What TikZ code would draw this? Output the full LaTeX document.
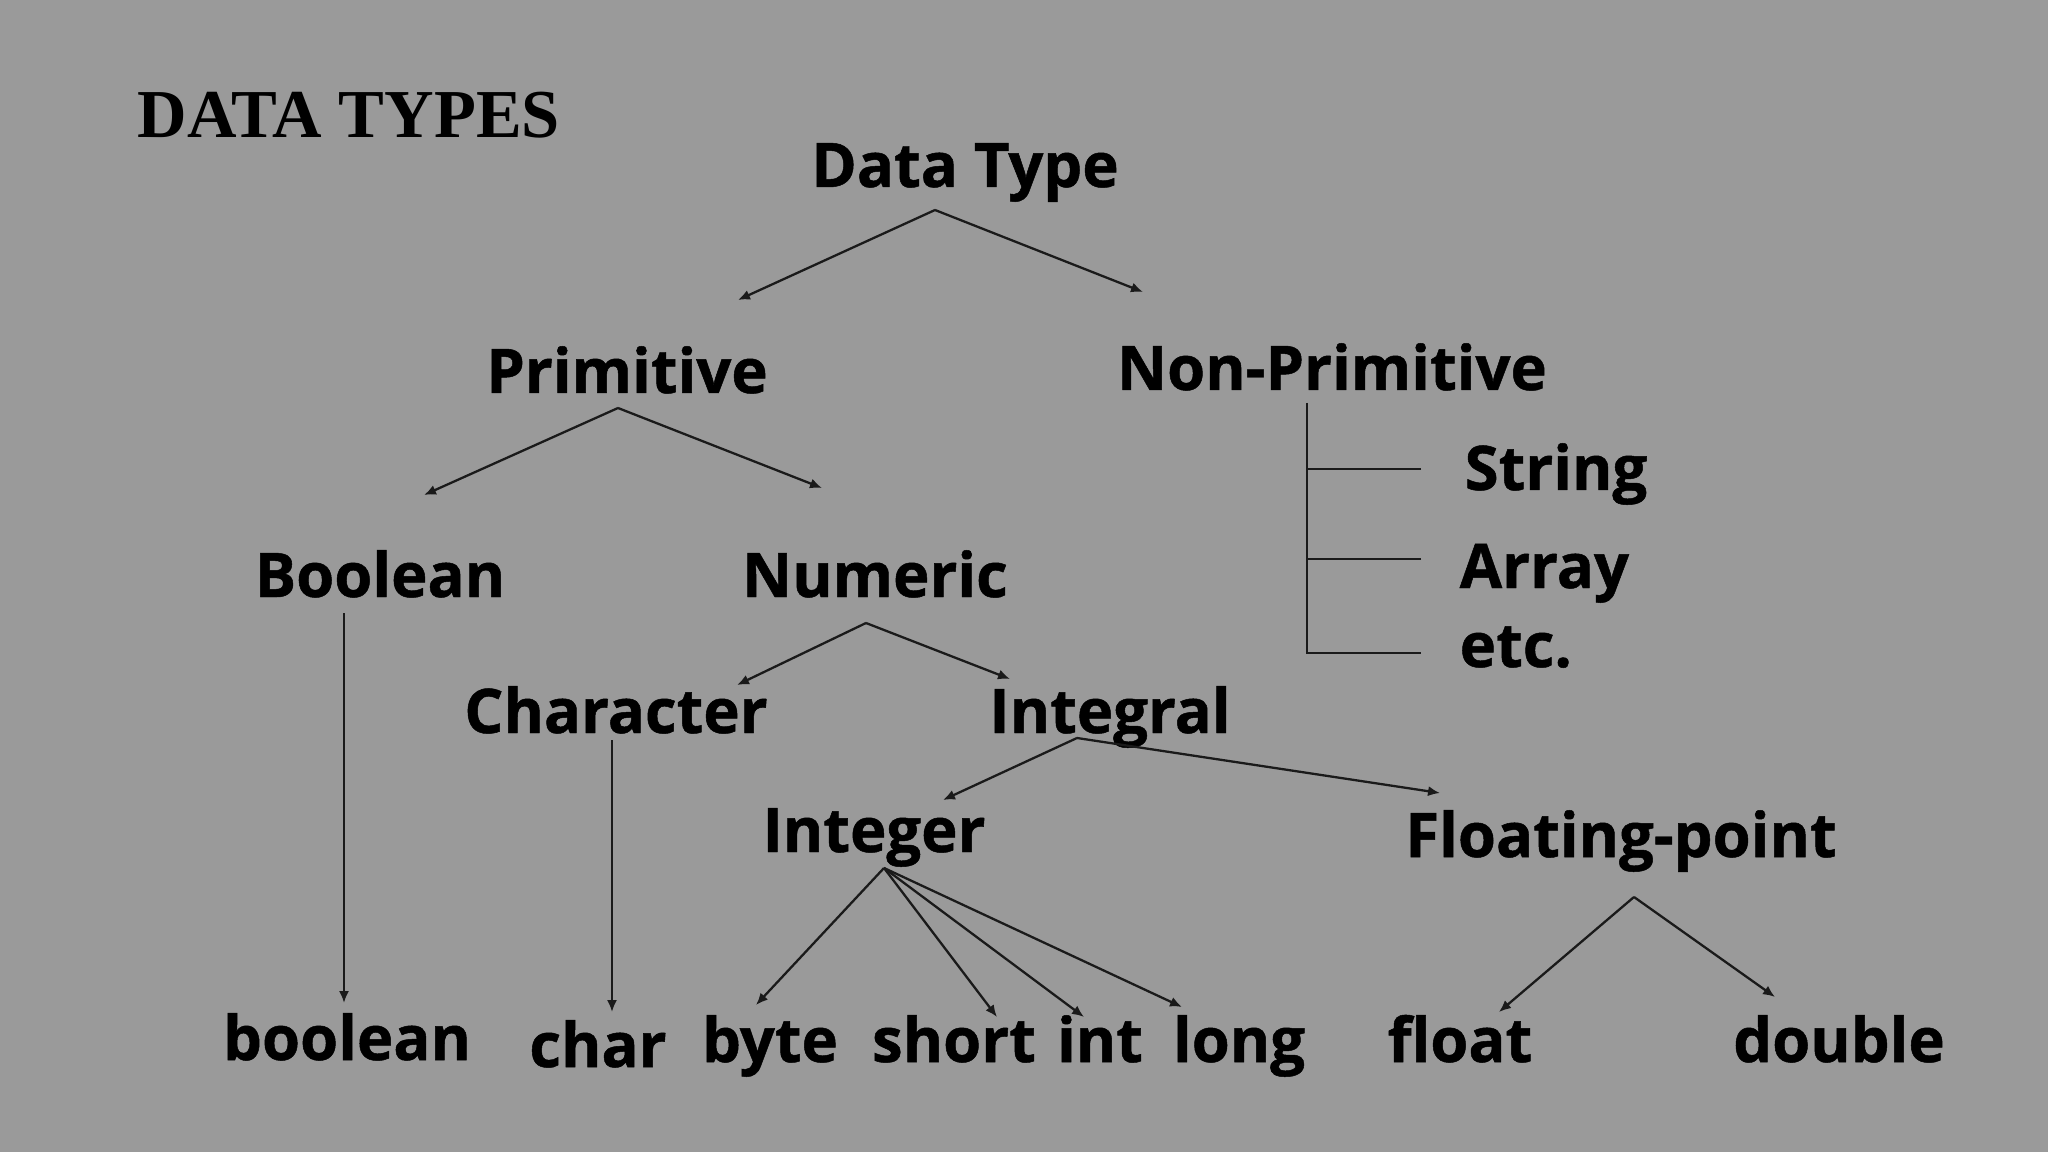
\documentclass[tikz,border=0pt]{standalone}
\usepackage{fontspec}
\usepackage{xcolor}
\usepackage{tikz}
\usetikzlibrary{arrows.meta}
\newfontfamily\osans{Open Sans}[BoldFeatures={FakeBold=0.8}]
\newfontfamily\tnr{Liberation Serif}
\definecolor{slidegray}{HTML}{9A9A9A}
\definecolor{inkline}{HTML}{1A1A1A}

\begin{document}
\begin{tikzpicture}[x=0.01cm, y=-0.01cm,
    lbl/.style={font=\osans\bfseries\fontsize{17.5}{20}\selectfont, inner sep=0, anchor=base},
    item/.style={lbl, anchor=base west},
    heading/.style={font=\tnr\bfseries\fontsize{19.5}{22}\selectfont, inner sep=0, anchor=base west},
    arrow/.style={-{Latex[length=3.4pt, width=2.9pt]}, line width=0.65pt, draw=inkline},
    link/.style={line width=0.65pt, draw=inkline}
]
    \fill[slidegray] (0,0) rectangle (2048,1152);
    \useasboundingbox (0,0) rectangle (2048,1152);

    \node[heading] (title) at (137,138) {DATA TYPES};

    \node[lbl] (dt) at (965,187) {Data Type};
    \node[lbl] (prim) at (627,393) {Primitive};
    \node[lbl] (nonprim) at (1332,390) {Non-Primitive};
    \node[item] (str) at (1464,490) {String};
    \node[item] (arr) at (1459,588) {Array};
    \node[item] (etc) at (1459,667) {etc.};
    \node[lbl] (bool) at (380,597) {Boolean};
    \node[lbl] (num) at (875,597) {Numeric};
    \node[lbl] (chr) at (616,733) {Character};
    \node[lbl] (integral) at (1110,733) {Integral};
    \node[lbl] (integer) at (874,852) {Integer};
    \node[lbl] (fp) at (1621,857) {Floating-point};

    % primitive types
    \node[lbl] (tboolean) at (347,1060) {boolean};
    \node[lbl] (tchar) at (598,1067) {char};
    \node[lbl] (tbyte) at (770,1062) {byte};
    \node[lbl] (tshort) at (954,1062) {short};
    \node[lbl] (tint) at (1100,1062) {int};
    \node[lbl] (tlong) at (1239,1062) {long};
    \node[lbl] (tfloat) at (1460,1062) {float};
    \node[lbl] (tdouble) at (1839,1062) {double};

    \draw[arrow] ([shift={(-30,23)}]dt.base) -- ([shift={(111,-93)}]prim.base);
    \draw[arrow] ([shift={(-30,23)}]dt.base) -- ([shift={(-189,-98)}]nonprim.base);

    \draw[link] ([shift={(-25,13)}]nonprim.base) |- ([shift={(-38,-14)}]etc.base west);
    \draw[link] ([shift={(-43,-21)}]str.base west) -- ++(-114,0);
    \draw[link] ([shift={(-38,-29)}]arr.base west) -- ++(-114,0);

    \draw[arrow] ([shift={(-9,15)}]prim.base) -- ([shift={(44,-102)}]bool.base);
    \draw[arrow] ([shift={(-9,15)}]prim.base) -- ([shift={(-53,-109)}]num.base);
    \draw[arrow] ([shift={(-36,16)}]bool.base) -- ([shift={(-3,-57)}]tboolean.base);

    \draw[arrow] ([shift={(-9,26)}]num.base) -- ([shift={(121,-48)}]chr.base);
    \draw[arrow] ([shift={(-9,26)}]num.base) -- ([shift={(-100,-54)}]integral.base);
    \draw[arrow] ([shift={(-4,7)}]chr.base) -- ([shift={(14,-55)}]tchar.base);

    \draw[arrow] ([shift={(-33,5)}]integral.base) -- ([shift={(69,-52)}]integer.base);
    \draw[arrow] ([shift={(-33,5)}]integral.base) -- ([shift={(-181,-64)}]fp.base);

    \draw[arrow] ([shift={(10,16)}]integer.base) -- ([shift={(-14,-57)}]tbyte.base);
    \draw[arrow] ([shift={(10,16)}]integer.base) -- ([shift={(43,-45)}]tshort.base);
    \draw[arrow] ([shift={(10,16)}]integer.base) -- ([shift={(-16,-45)}]tint.base);
    \draw[arrow] ([shift={(10,16)}]integer.base) -- ([shift={(-57,-55)}]tlong.base);

    \draw[arrow] ([shift={(13,40)}]fp.base) -- ([shift={(39,-50)}]tfloat.base);
    \draw[arrow] ([shift={(13,40)}]fp.base) -- ([shift={(-64,-65)}]tdouble.base);
\end{tikzpicture}
\end{document}
